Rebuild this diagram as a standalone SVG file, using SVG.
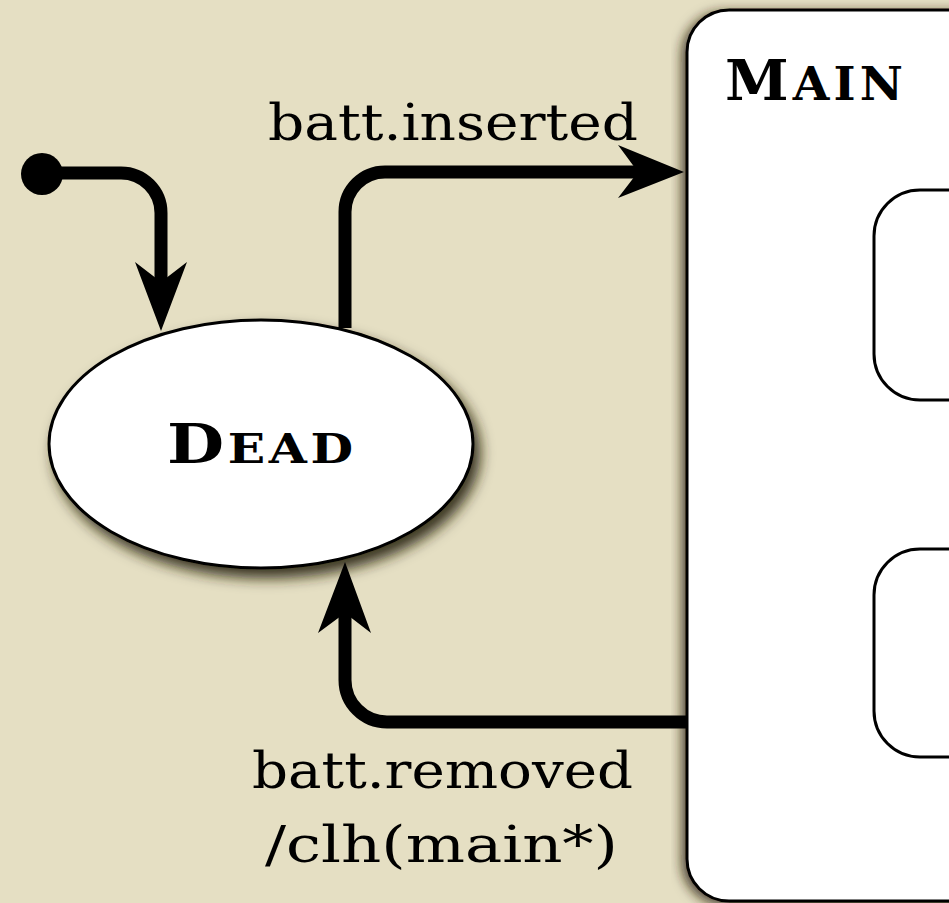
<svg xmlns="http://www.w3.org/2000/svg" width="949" height="903" viewBox="0 0 949 903">
<defs>
<style>
.edge{fill:none;stroke:#000;stroke-width:13;stroke-linejoin:round}
.head{fill:#000}
.lbl{font-family:"DejaVu Serif","Liberation Serif",serif;font-size:50px;fill:#000}
.title{font-family:"DejaVu Serif","Liberation Serif",serif;font-weight:bold;fill:#000}
.state{fill:#fff;stroke:#000;stroke-width:3}
</style>
<filter id="sh" x="-20%" y="-20%" width="140%" height="150%">
<feDropShadow dx="6" dy="9" stdDeviation="7" flood-color="#2a2410" flood-opacity="0.9"/>
</filter>
<filter id="sh2" x="-5%" y="-5%" width="110%" height="110%">
<feDropShadow dx="-4" dy="3" stdDeviation="6" flood-color="#2a2410" flood-opacity="0.8"/>
</filter>
</defs>
<rect width="949" height="903" fill="#e5dfc3"/>
<g id="main">
<rect class="state" x="687" y="10" width="320" height="891" rx="42" filter="url(#sh2)"/>
<text class="title" x="725" y="100" textLength="178" lengthAdjust="spacingAndGlyphs"><tspan font-size="56">M</tspan><tspan font-size="46" dx="4">A</tspan><tspan font-size="46" dx="4">I</tspan><tspan font-size="46" dx="4">N</tspan></text>
</g>
<g id="sub1">
<rect class="state" x="874" y="190" width="120" height="210" rx="46"/>
</g>
<g id="sub2">
<rect class="state" x="874" y="549" width="120" height="208" rx="46"/>
</g>
<g id="dead">
<ellipse class="state" cx="261" cy="444" rx="212" ry="124" filter="url(#sh)"/>
<text class="title" x="167" y="463" textLength="186" lengthAdjust="spacingAndGlyphs"><tspan font-size="55">D</tspan><tspan font-size="41" dx="3">E</tspan><tspan font-size="41" dx="3">A</tspan><tspan font-size="41" dx="3">D</tspan></text>
</g>
<g id="connectors">
<circle cx="42" cy="174" r="21" fill="#000"/>
<path class="edge" d="M42,173 H121 A40,40 0 0 1 161,213 V290"/>
<path class="head" d="M161,331 L135,262 L161,282 L187,262 Z"/>
<path class="edge" d="M345,328 V212 A40,40 0 0 1 385,172 H645"/>
<path class="head" d="M684,172 L618,145 L638,172 L618,198 Z"/>
<path class="edge" d="M687,722 H387 A42,42 0 0 1 345,680 V600"/>
<path class="head" d="M345,562 L318,633 L345,613 L371,633 Z"/>
<text class="lbl" x="268" y="140" textLength="370" lengthAdjust="spacingAndGlyphs">batt.inserted</text>
<text class="lbl" x="252" y="788" textLength="381" lengthAdjust="spacingAndGlyphs">batt.removed</text>
<text class="lbl" x="265" y="862" textLength="353" lengthAdjust="spacingAndGlyphs">/clh(main*)</text>
</g>
</svg>
